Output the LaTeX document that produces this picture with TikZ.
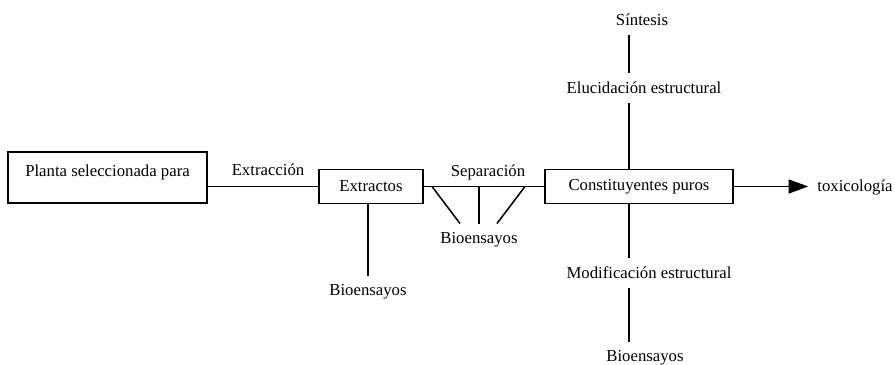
\documentclass[tikz,border=0pt]{standalone}
\usepackage{fontspec}
\setmainfont{Liberation Serif}
\usepackage{tikz}
\usetikzlibrary{arrows.meta,positioning,calc}
\tikzset{
  pbox/.style={draw, rectangle, line width=1.1pt, inner sep=0pt},
  plabel/.style={inner sep=0pt, outer sep=6.5pt},
  pline/.style={line width=1.1pt},
  parrow/.style={-{Triangle[length=14pt, width=10pt]}, line width=1.1pt},
}

\begin{document}
\begin{tikzpicture}[x=0.025cm, y=-0.025cm, font=\fontsize{11.9}{14}\selectfont]
  \useasboundingbox (0,0) rectangle (895,365);

  \node[pbox, minimum width=4.975cm, minimum height=1.275cm,
        text height=9pt, text depth=10pt] (planta) at (107.5,177.5)
    {Planta seleccionada para};
  \node[pbox, minimum width=2.6cm, minimum height=0.85cm] (extractos) at (371,186.5)
    {Extractos};
  \node[pbox, minimum width=4.7cm, minimum height=0.85cm] (puros) at (639,186.5)
    {Constituyentes puros};

  \node[plabel] (extraccion) at (268,170) {Extracción};
  \node[plabel] (separacion) at (488,172) {Separación};
  \node[plabel] (bioext) at (368,292) {Bioensayos};
  \node[plabel] (biosep) at (479,240) {Bioensayos};
  \node[plabel] (sintesis) at (642,20) {Síntesis};
  \node[plabel] (elucidacion) at (644,88) {Elucidación estructural};
  \node[plabel] (modificacion) at (649,273) {Modificación estructural};
  \node[plabel] (biomod) at (645,358) {Bioensayos};
  \node[plabel] (toxicologia) at (855,187) {toxicología};

  % main line
  \draw[pline] (planta.east |- extractos.west) -- (extractos.west);
  \draw[pline] (extractos) -- (puros);
  \draw[pline] (bioext.north |- extractos.south) -- (bioext.north);
  \draw[parrow] (puros.east) -- (toxicologia.west |- puros.east);

  % separation assays
  \coordinate (sepL) at (432,186.5);
  \coordinate (sepM) at (479,186.5);
  \coordinate (sepR) at (525,186.5);
  \draw[pline] (sepL) -- ($(biosep.north)+(-19,0)$);
  \draw[pline] (sepM) -- (biosep.north);
  \draw[pline] (sepR) -- ($(biosep.north)+(18,0)$);

  % vertical branch
  \coordinate (vx) at (629,0);
  \draw[pline] (sintesis.south -| vx) -- (elucidacion.north -| vx);
  \draw[pline] (elucidacion.south -| vx) -- (puros.north -| vx);
  \draw[pline] (puros.south -| vx) -- (modificacion.north -| vx);
  \draw[pline] (modificacion.south -| vx) -- (biomod.north -| vx);
\end{tikzpicture}
\end{document}
